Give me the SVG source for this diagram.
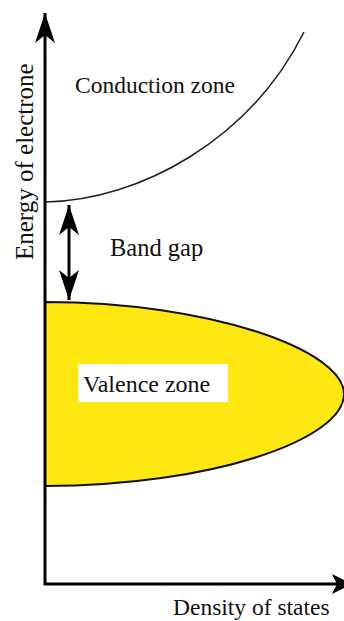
<svg xmlns="http://www.w3.org/2000/svg" width="344" height="621" viewBox="0 0 344 621">
<style>
text{font-family:"Liberation Serif","Times New Roman",serif;fill:#111}
.ax{stroke:#000;stroke-width:3;fill:none}
</style>
<defs>
<marker id="ah" markerWidth="20" markerHeight="20" refX="10" refY="10" orient="auto" markerUnits="userSpaceOnUse" viewBox="0 0 20 20">
<path d="M0,0 L20,10 L0,20 L5,10 Z" fill="#000"/>
</marker>
<marker id="ah2" viewBox="0 0 30 20" refX="30" refY="10" markerWidth="30" markerHeight="20" orient="auto-start-reverse" markerUnits="userSpaceOnUse">
<path d="M0,0 L30,10 L0,20 L8,10 Z" fill="#000"/>
</marker>
</defs>
<rect width="344" height="621" fill="#fff"/>
<g id="valence">
<path d="M45,302 C210,302 344,350 344,394 C344,440 210,486 45,486 Z" fill="#FFE812" stroke="#111" stroke-width="2"/>
<rect x="78" y="364" width="150" height="38" fill="#fff"/>
<text x="83" y="392" font-size="24">Valence zone</text>
</g>
<g id="conduction">
<path d="M46,202 C140,200 250,140 304,32" fill="none" stroke="#222" stroke-width="1.6"/>
<text x="75" y="93" font-size="23.5">Conduction zone</text>
</g>
<g id="bandgap">
<text x="110" y="256" font-size="24.5">Band gap</text>
</g>
<g id="connectors">
<line x1="45" y1="585" x2="45" y2="13" class="ax" marker-end="url(#ah2)"/>
<line x1="44" y1="584" x2="342" y2="584" class="ax" marker-end="url(#ah)"/>
<line x1="69" y1="205" x2="69" y2="300" stroke="#000" stroke-width="3" marker-start="url(#ah2)" marker-end="url(#ah2)"/>
</g>
<g id="labels">
<text transform="translate(33,260) rotate(-90)" font-size="25">Energy of electrone</text>
<text x="173" y="615" font-size="23.5">Density of states</text>
</g>
</svg>
